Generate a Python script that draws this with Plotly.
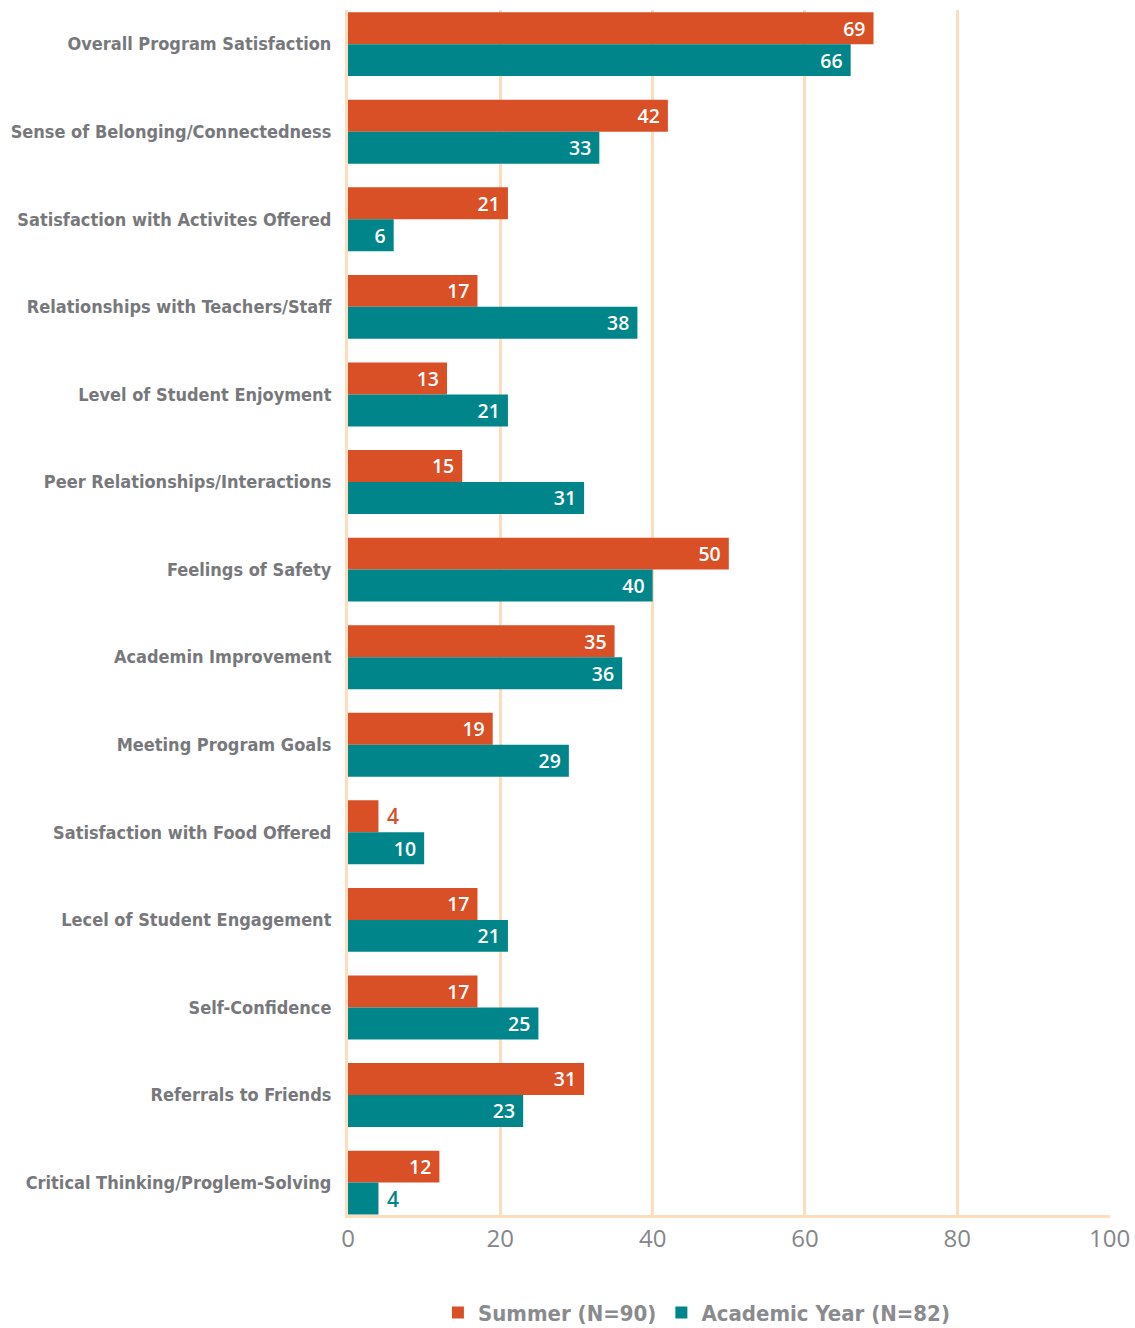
import plotly.graph_objects as go

categories = [
    "Overall Program Satisfaction",
    "Sense of Belonging/Connectedness",
    "Satisfaction with Activites Offered",
    "Relationships with Teachers/Staff",
    "Level of Student Enjoyment",
    "Peer Relationships/Interactions",
    "Feelings of Safety",
    "Academin Improvement",
    "Meeting Program Goals",
    "Satisfaction with Food Offered",
    "Lecel of Student Engagement",
    "Self-Confidence",
    "Referrals to Friends",
    "Critical Thinking/Proglem-Solving",
]
summer = [69, 42, 21, 17, 13, 15, 50, 35, 19, 4, 17, 17, 31, 12]
academic = [66, 33, 6, 38, 21, 31, 40, 36, 29, 10, 21, 25, 23, 4]
x_ticks = [0, 20, 40, 60, 80, 100]

ORANGE = "#D94F26"
TEAL = "#00868A"
PEACH = "#FDDDBB"
GRAY = "#77787B"
COND = "DejaVu Sans Condensed, Liberation Sans, sans-serif"
NB = "\u00a0"

def trace(name, vals, color):
    small = [v < 5 for v in vals]
    pos = ["outside" if s else "inside" for s in small]
    tcol = [color if s else "white" for s in small]
    txt = [NB + str(v) if s else str(v) + NB for v, s in zip(vals, small)]
    return go.Bar(
        name=name, y=categories, x=vals, orientation="h",
        marker=dict(color=color, line=dict(width=0)),
        text=txt, textposition=pos,
        insidetextanchor="end", textangle=0,
        textfont=dict(family="Open Sans", size=21, color=tcol, weight=600),
        cliponaxis=False,
    )

fig = go.Figure([trace("Summer (N=90)", summer, ORANGE),
                 trace("Academic Year (N=82)", academic, TEAL)])

fig.update_layout(
    width=1135, height=1328,
    margin=dict(l=348, r=25, t=10, b=113, autoexpand=False),
    barmode="group", bargap=0.27, bargroupgap=0,
    plot_bgcolor="white", paper_bgcolor="white",
    legend=dict(orientation="h", x=0.118, xanchor="left", y=-0.081, yanchor="middle",
                font=dict(family=COND, size=22, color="#8A8B8E", weight=700),
                traceorder="normal", itemwidth=30),
    showlegend=True,
)
fig.update_xaxes(
    range=[0, 100.05], tickvals=x_ticks, ticktext=[str(t) for t in x_ticks],
    showgrid=True, gridcolor=PEACH, gridwidth=3,
    showline=True, linecolor=PEACH, linewidth=3,
    zeroline=False, ticks="", automargin=False, ticklabeloverflow="allow",
    tickfont=dict(family="Open Sans", size=24, color="#85868A"),
)
fig.update_yaxes(
    categoryorder="array", categoryarray=categories,
    range=[13.37, -0.39],
    showgrid=False, showline=True, linecolor=PEACH, linewidth=3,
    ticks="", ticklabelstandoff=10, automargin=False,
    tickfont=dict(family=COND, size=18, color=GRAY, weight=700),
)

fig.write_html("out.html", config={"displayModeBar": False},
               post_script="document.body.style.margin='0px';")
